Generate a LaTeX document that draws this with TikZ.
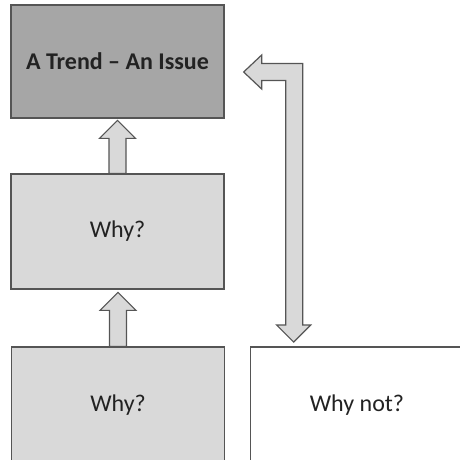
\documentclass[tikz,border=0pt]{standalone}
\usepackage{fontspec}
\setmainfont{Carlito}
\usetikzlibrary{calc}
\definecolor{edge}{HTML}{555555}
\definecolor{darkfill}{HTML}{A6A6A6}
\definecolor{lightfill}{HTML}{D9D9D9}
\definecolor{ink}{HTML}{222222}
\tikzset{
  box/.style={draw=edge, line width=1.3pt, minimum width=213pt, inner sep=0pt,
    text=ink, font=\fontsize{24}{28}\selectfont},
  blockarrow/.style={draw=edge, fill=lightfill, line width=1.2pt, line join=miter}
}
\begin{document}
\begin{tikzpicture}[x=1pt,y=-1pt]
  \useasboundingbox (0,0) rectangle (460,459);
  % boxes
  \node[box, fill=darkfill, minimum height=113pt, font=\fontsize{24}{28}\selectfont\bfseries]
    (trend) at (117.5,61.5) {A Trend -- An Issue};
  \node[box, fill=lightfill, minimum height=115pt] (why1) at (117.5,231.5) {Why?};
  \node[box, fill=lightfill, minimum height=116pt] (why2) at (118,405) {Why?};
  \node[box, fill=white, minimum width=213pt, minimum height=116pt] (whynot) at (357,405) {Why not?};
  % block arrows between the stacked boxes
  \draw[blockarrow, shift={(why1.north)}]
    (-8.5,0) -- (-8.5,-35) -- (-18,-35) -- (0,-53) -- (18,-35) -- (8.5,-35) -- (8.5,0) -- cycle;
  \draw[blockarrow, shift={(why2.north)}]
    (-8.5,0) -- (-8.5,-36) -- (-18,-36) -- (0,-54) -- (18,-36) -- (8.5,-36) -- (8.5,0) -- cycle;
  % two-headed elbow arrow from the issue to "why not"
  \coordinate (loopTip) at ($(trend.east)+(19,10.5)$);
  \draw[blockarrow, shift={(loopTip)}]
    (0,0) -- (18,-17) -- (18,-8.5) -- (59,-8.5) -- (59,253) -- (67,253) -- (50,270)
    -- (33,253) -- (42,253) -- (42,8.5) -- (18,8.5) -- (18,17) -- cycle;
\end{tikzpicture}
\end{document}
